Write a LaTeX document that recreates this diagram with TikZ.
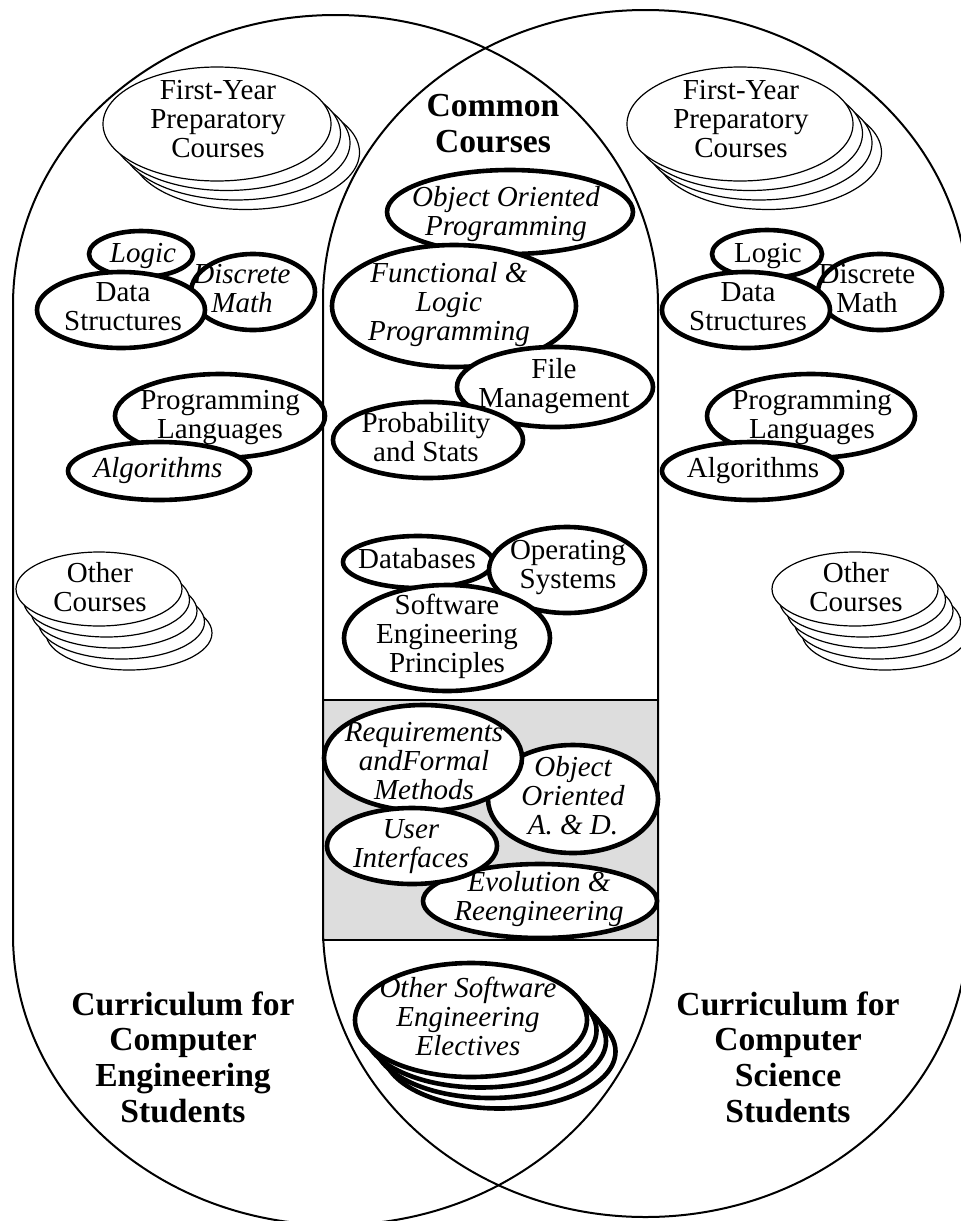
\documentclass[tikz,border=0pt]{standalone}
\usepackage{fontspec}
\setmainfont{Liberation Serif}
\usepackage{tikz}
\definecolor{elective}{HTML}{DDDDDD}
\tikzset{
  lobe/.style={line width=1pt, draw=black},
  course/.style={line width=2.3pt, draw=black, fill=white},
  stack/.style={line width=0.6pt, draw=black, fill=white},
  box/.style={line width=1.1pt, draw=black},
  lab/.style={font=\fontsize{14.5}{14.5}\selectfont, align=center, anchor=base, inner sep=0pt},
  ital/.style={lab, font=\fontsize{14.5}{14.5}\selectfont\itshape},
  head/.style={lab, font=\fontsize{16.8}{17.8}\selectfont\bfseries}
}

\begin{document}
\begin{tikzpicture}[x=0.5pt, y=0.5pt]
  \useasboundingbox (0,0) rectangle (961,-1221);
  \clip (0,0) rectangle (961,-1221);

  \fill[elective] (323,-700) rectangle (658,-940);

  % computer engineering side
  \coordinate (fyl) at (217,-124);
  \coordinate (logicl) at (141,-254);
  \coordinate (discl) at (253,-292);
  \coordinate (dsl) at (121,-310);
  \coordinate (pll) at (220,-416);
  \coordinate (algl) at (159,-471);
  \coordinate (othl) at (99,-589);

  \foreach \k in {3,2,1}
    \draw[stack] ({217+9.5*\k},{-124-9.5*\k}) ellipse [x radius=114, y radius=57];
  \draw[stack] (fyl) ellipse [x radius=114, y radius=57];
  \draw[course] (logicl) ellipse [x radius=52, y radius=23];
  \draw[course] (discl) ellipse [x radius=62, y radius=38];
  \draw[course] (dsl) ellipse [x radius=84, y radius=38];
  \draw[course] (pll) ellipse [x radius=105, y radius=42];
  \draw[course] (algl) ellipse [x radius=91, y radius=29];
  \foreach \k in {4,3,2,1}
    \draw[stack] ({99+7.5*\k},{-589-11*\k}) ellipse [x radius=83, y radius=37];
  \draw[stack] (othl) ellipse [x radius=83, y radius=37];

  \node[lab] (fylT) at (218,-157) {First-Year\\Preparatory\\Courses};
  \node[ital] (logiclT) at (143,-262) {Logic};
  \node[ital] (disclT) at (242,-312) {Discrete\\Math};
  \node[lab] (dslT) at (123,-330) {Data\\Structures};
  \node[lab] (pllT) at (220,-438) {Programming\\Languages};
  \node[ital] (alglT) at (158,-477) {Algorithms};
  \node[lab] (othlT) at (100,-611) {Other\\Courses};

  % computer science side
  \coordinate (fyr) at (740,-124);
  \coordinate (logicr) at (767,-254);
  \coordinate (discr) at (880,-292);
  \coordinate (dsr) at (746,-310);
  \coordinate (plr) at (811,-416);
  \coordinate (algr) at (752,-471);
  \coordinate (othr) at (855,-589);

  \foreach \k in {3,2,1}
    \draw[stack] ({740+9.5*\k},{-124-9.5*\k}) ellipse [x radius=113, y radius=57];
  \draw[stack] (fyr) ellipse [x radius=113, y radius=57];
  \draw[course] (logicr) ellipse [x radius=55, y radius=24];
  \draw[course] (discr) ellipse [x radius=62, y radius=38];
  \draw[course] (dsr) ellipse [x radius=84, y radius=38];
  \draw[course] (plr) ellipse [x radius=104, y radius=42];
  \draw[course] (algr) ellipse [x radius=90, y radius=29];
  \foreach \k in {4,3,2,1}
    \draw[stack] ({855+7.5*\k},{-589-11*\k}) ellipse [x radius=83, y radius=37];
  \draw[stack] (othr) ellipse [x radius=83, y radius=37];

  \node[lab] (fyrT) at (741,-157) {First-Year\\Preparatory\\Courses};
  \node[lab] (logicrT) at (768,-262) {Logic};
  \node[lab] (discrT) at (867,-312) {Discrete\\Math};
  \node[lab] (dsrT) at (748,-330) {Data\\Structures};
  \node[lab] (plrT) at (812,-438) {Programming\\Languages};
  \node[lab] (algrT) at (753,-477) {Algorithms};
  \node[lab] (othrT) at (856,-611) {Other\\Courses};

  % common courses
  \coordinate (oop) at (510,-212);
  \coordinate (flp) at (454,-306);
  \coordinate (fm) at (555,-387);
  \coordinate (ps) at (428,-440);
  \coordinate (db) at (418,-562);
  \coordinate (os) at (567,-570);
  \coordinate (sep) at (447,-638);
  \coordinate (req) at (423,-758);
  \coordinate (ooad) at (573,-799);
  \coordinate (ui) at (412,-846);
  \coordinate (evo) at (540,-901);
  \coordinate (ose) at (471,-1020);

  \draw[course] (oop) ellipse [x radius=123, y radius=42];
  \draw[course] (flp) ellipse [x radius=122, y radius=61];
  \draw[course] (fm) ellipse [x radius=98, y radius=40];
  \draw[course] (ps) ellipse [x radius=95, y radius=38];
  \draw[course] (db) ellipse [x radius=75, y radius=26];
  \draw[course] (os) ellipse [x radius=78, y radius=43];
  \draw[course] (sep) ellipse [x radius=103, y radius=53];
  \draw[course] (evo) ellipse [x radius=117, y radius=37];
  \draw[course] (ooad) ellipse [x radius=85, y radius=54];
  \draw[course] (req) ellipse [x radius=99, y radius=53];
  \draw[course] (ui) ellipse [x radius=85, y radius=38];
  \foreach \k in {3,2,1}
    \draw[course] ({471+9.5*\k},{-1020-10.5*\k}) ellipse [x radius=116, y radius=57];
  \draw[course] (ose) ellipse [x radius=116, y radius=57];

  \node[head] (commonT) at (493,-152) {Common\\Courses};
  \node[ital] (oopT) at (506,-235) {Object Oriented\\Programming};
  \node[ital] (flpT) at (449,-340) {Functional \&\\Logic\\Programming};
  \node[lab] (fmT) at (554,-407) {File\\Management};
  \node[lab] (psT) at (426,-461) {Probability\\and Stats};
  \node[lab] (dbT) at (417,-568) {Databases};
  \node[lab] (osT) at (568,-588) {Operating\\Systems};
  \node[lab] (sepT) at (447,-672) {Software\\Engineering\\Principles};
  \node[ital] (reqT) at (424,-799) {Requirements\\andFormal\\Methods};
  \node[ital] (ooadT) at (573,-834) {Object\\Oriented\\A. \& D.};
  \node[ital] (uiT) at (411,-867) {User\\Interfaces};
  \node[ital] (evoT) at (539,-920) {Evolution \&\\Reengineering};
  \node[ital] (oseT) at (468,-1055) {Other Software\\Engineering\\Electives};

  \draw[box] (323,-700) rectangle (658,-940);

  % the two curricula
  \draw[lobe] (13,-305) -- (13,-935)
    arc[start angle=180, end angle=360, x radius=322.5, y radius=290] -- (658,-305)
    arc[start angle=0, end angle=180, x radius=322.5, y radius=290] -- cycle;
  \draw[lobe] (323,-300) -- (323,-927)
    arc[start angle=180, end angle=360, x radius=322.5, y radius=290] -- (968,-300)
    arc[start angle=0, end angle=180, x radius=322.5, y radius=290] -- cycle;

  \node[head] (ceT) at (183,-1122) {Curriculum for\\Computer\\Engineering\\Students};
  \node[head] (csT) at (788,-1122) {Curriculum for\\Computer\\Science\\Students};
\end{tikzpicture}
\end{document}
